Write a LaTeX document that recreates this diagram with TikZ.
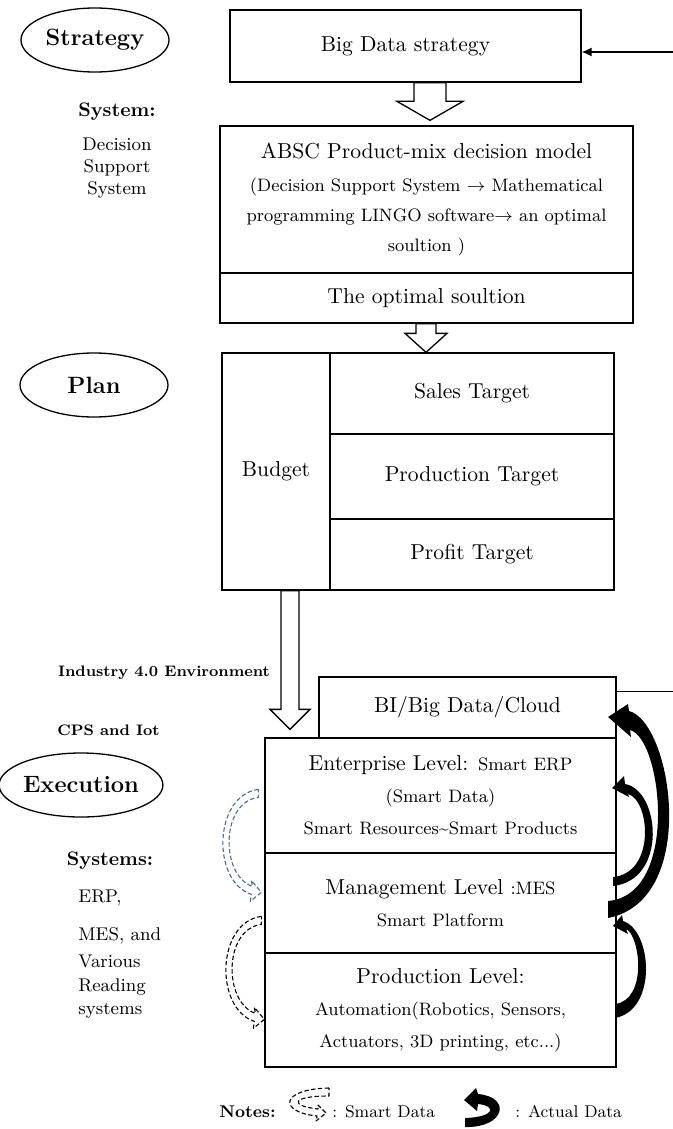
\documentclass[tikz,border=0pt]{standalone}
\usetikzlibrary{calc,arrows.meta,shapes.geometric}
\definecolor{smartblue}{RGB}{78,106,138}
\newcommand{\bigsize}{\fontsize{10.8}{16}\selectfont}
\newcommand{\smallsize}{\fontsize{9}{16}\selectfont}
\tikzset{
  box/.style={draw, line width=0.65pt, align=center, inner sep=2pt, font=\bigsize},
  stage/.style={draw, ellipse, line width=0.65pt, inner sep=0pt, minimum width=74pt,
    minimum height=32pt, font=\fontsize{11.8}{14}\selectfont\bfseries},
  hollow/.style={draw, line width=0.65pt, fill=white, line join=miter},
  arr/.style={-{Latex[length=5pt,width=4.5pt]}, line width=0.65pt},
  smart/.style={draw, line width=0.55pt, dash pattern=on 2.2pt off 1.2pt, line join=round},
  sidehead/.style={inner sep=0pt, font=\fontsize{9.8}{12}\selectfont\bfseries},
  sidetext/.style={inner sep=0pt, align=center, font=\fontsize{9.2}{11}\selectfont},
  envtext/.style={inner sep=0pt, font=\fontsize{7.6}{10}\selectfont\bfseries},
  note/.style={inner sep=0pt, font=\fontsize{8.5}{10}\selectfont},
  smartloop/.pic={
    \draw[smart] (0,0) .. controls (-45,6) and (-47,92) .. (-7,105) -- (-8,112) -- (3,103)
      -- (-7,91) -- (-6,97) .. controls (-38,86) and (-38,13) .. (0,8) -- cycle;
  }
}
% block arrow: top point, tip point, shaft half width, head half width, head length
\newcommand{\hollowarrow}[5]{%
  \draw[hollow] ($(#1)+(-#3,0)$) -- ($(#2)+(-#3,-#5)$) -- ($(#2)+(-#4,-#5)$) -- (#2)
    -- ($(#2)+(#4,-#5)$) -- ($(#2)+(#3,-#5)$) -- ($(#1)+(#3,0)$) -- cycle;}

\begin{document}
\begin{tikzpicture}[x=0.5pt, y=-0.5pt]
  \useasboundingbox (0,0) rectangle (673,1129);

  % stages
  \node[stage] (strategy) at (95,40) {Strategy};
  \node[stage] (plan) at (94,385) {Plan};
  \node[stage] (execution) at (81,785) {Execution};

  % strategy
  \node[box, minimum width=175.5pt, minimum height=36pt] (bds) at (405.5,46) {Big Data strategy};
  \node[box, minimum width=206.5pt, minimum height=73.5pt, font=\fontsize{9}{15}\selectfont] (absc) at (426.5,199.5)
    {{\bigsize ABSC Product-mix decision model}\\[1.5pt]
     (Decision Support System $\rightarrow$ Mathematical\\
     programming LINGO software$\rightarrow$ an optimal\\
     soultion )};
  \node[box, minimum width=206.5pt, minimum height=25pt] (opt) at (426.5,298) {The optimal soultion};

  % plan
  \node[box, minimum width=54pt, minimum height=118.5pt] (budget) at (276,471.5) {Budget};
  \node[box, minimum width=142pt, minimum height=40.5pt] (sales) at (472,393.5) {Sales Target};
  \node[box, minimum width=142pt, minimum height=42.5pt] (prodt) at (472,476.5) {Production Target};
  \node[box, minimum width=142pt, minimum height=35.5pt] (profit) at (472,554.5) {Profit Target};

  % execution
  \node[box, minimum width=148.5pt, minimum height=30.5pt] (bi) at (467.5,707.5) {BI/Big Data/Cloud};
  \node[box, minimum width=175.5pt, minimum height=57.5pt] (ent) at (440.5,795.5)
    {Enterprise Level: {\smallsize Smart ERP}\\{\smallsize (Smart Data)}\\
     {\smallsize Smart Resources\textasciitilde Smart Products}};
  \node[box, minimum width=175.5pt, minimum height=50pt] (mgmt) at (440.5,903)
    {Management Level {\smallsize :MES}\\{\smallsize Smart Platform}};
  \node[box, minimum width=175.5pt, minimum height=57pt] (prodl) at (440.5,1010)
    {Production Level:\\{\smallsize Automation(Robotics, Sensors,}\\
     {\smallsize Actuators, 3D printing, etc...)}};

  % block arrows
  \coordinate (a1) at (430,0);
  \coordinate (a2) at (426,0);
  \coordinate (a3) at (290,0);
  \hollowarrow{a1 |- bds.south}{$(a1 |- absc.north)+(0,-5)$}{16}{33}{19}
  \hollowarrow{a2 |- opt.south}{a2 |- sales.north}{10}{21}{19}
  \hollowarrow{a3 |- budget.south}{$(a3 |- ent.north)+(0,-8)$}{9}{20}{20}

  % feedback to the strategy, running just past the right edge
  \coordinate (rt) at (675,400);
  \draw[arr] ($(bi.north east)+(0,15)$) -| (rt) |- ($(bds.east)+(0,6)$);

  % side labels
  \node[sidehead, anchor=base] (sys) at (117,117) {System:};
  \node[sidetext] (dss) at (117,168) {Decision\\Support\\System};
  \node[envtext] (ind) at (164,673) {Industry 4.0 Environment};
  \node[envtext, anchor=west] (cps) at (57,730) {CPS and Iot};
  \node[sidehead, anchor=base] (syss) at (110,865) {Systems:};
  \node[sidetext, anchor=base west] (erp) at (78,902) {ERP,};
  \node[sidetext, anchor=base west] (mes) at (78,940) {MES, and};
  \node[sidetext, anchor=north west, align=left, font=\fontsize{9.2}{11.75}\selectfont] (various) at (78,955)
    {Various\\Reading\\systems};

  % smart data
  \pic[smartblue] at ($(ent.north west)+(-6,52)$) {smartloop};
  \pic at ($(mgmt.north west)+(-3,64)$) {smartloop};

  % actual data
  \fill (608,918) .. controls (700,900) and (672,722) .. (629,711) -- (628,704) -- (608,717)
    -- (631,737) -- (630,730) .. controls (662,738) and (680,895) .. (608,901) -- cycle;
  \fill (613,886) .. controls (668,880) and (660,790) .. (625,784) -- (624,776) -- (612,788)
    -- (629,797) -- (628,794) .. controls (650,800) and (656,873) .. (613,877) -- cycle;
  \fill (615,1018) .. controls (658,1010) and (652,930) .. (623,921) -- (622,915) -- (613,926)
    -- (628,934) -- (626,929) .. controls (640,935) and (648,1000) .. (615,1004) -- cycle;

  % notes
  \node[note, anchor=base west, font=\fontsize{8.5}{10}\selectfont\bfseries] (notes) at (219,1117) {Notes:};
  \draw[smart] (329,1088) .. controls (280,1089) and (278,1112) .. (317,1116) -- (316,1121) -- (326,1113)
    -- (318,1105) -- (318,1109) .. controls (290,1106) and (290,1096) .. (329,1096) -- cycle;
  \node[note, anchor=base west] (sdnote) at (332,1117) {: Smart Data};
  \fill (465,1118) -- (465,1127) .. controls (505,1128) and (512,1097) .. (478,1094) -- (476,1088)
    -- (464,1100) -- (477,1111) -- (478,1104) .. controls (497,1106) and (495,1117) .. (465,1118) -- cycle;
  \node[note, anchor=base west] (adnote) at (515,1117) {: Actual Data};
\end{tikzpicture}
\end{document}
